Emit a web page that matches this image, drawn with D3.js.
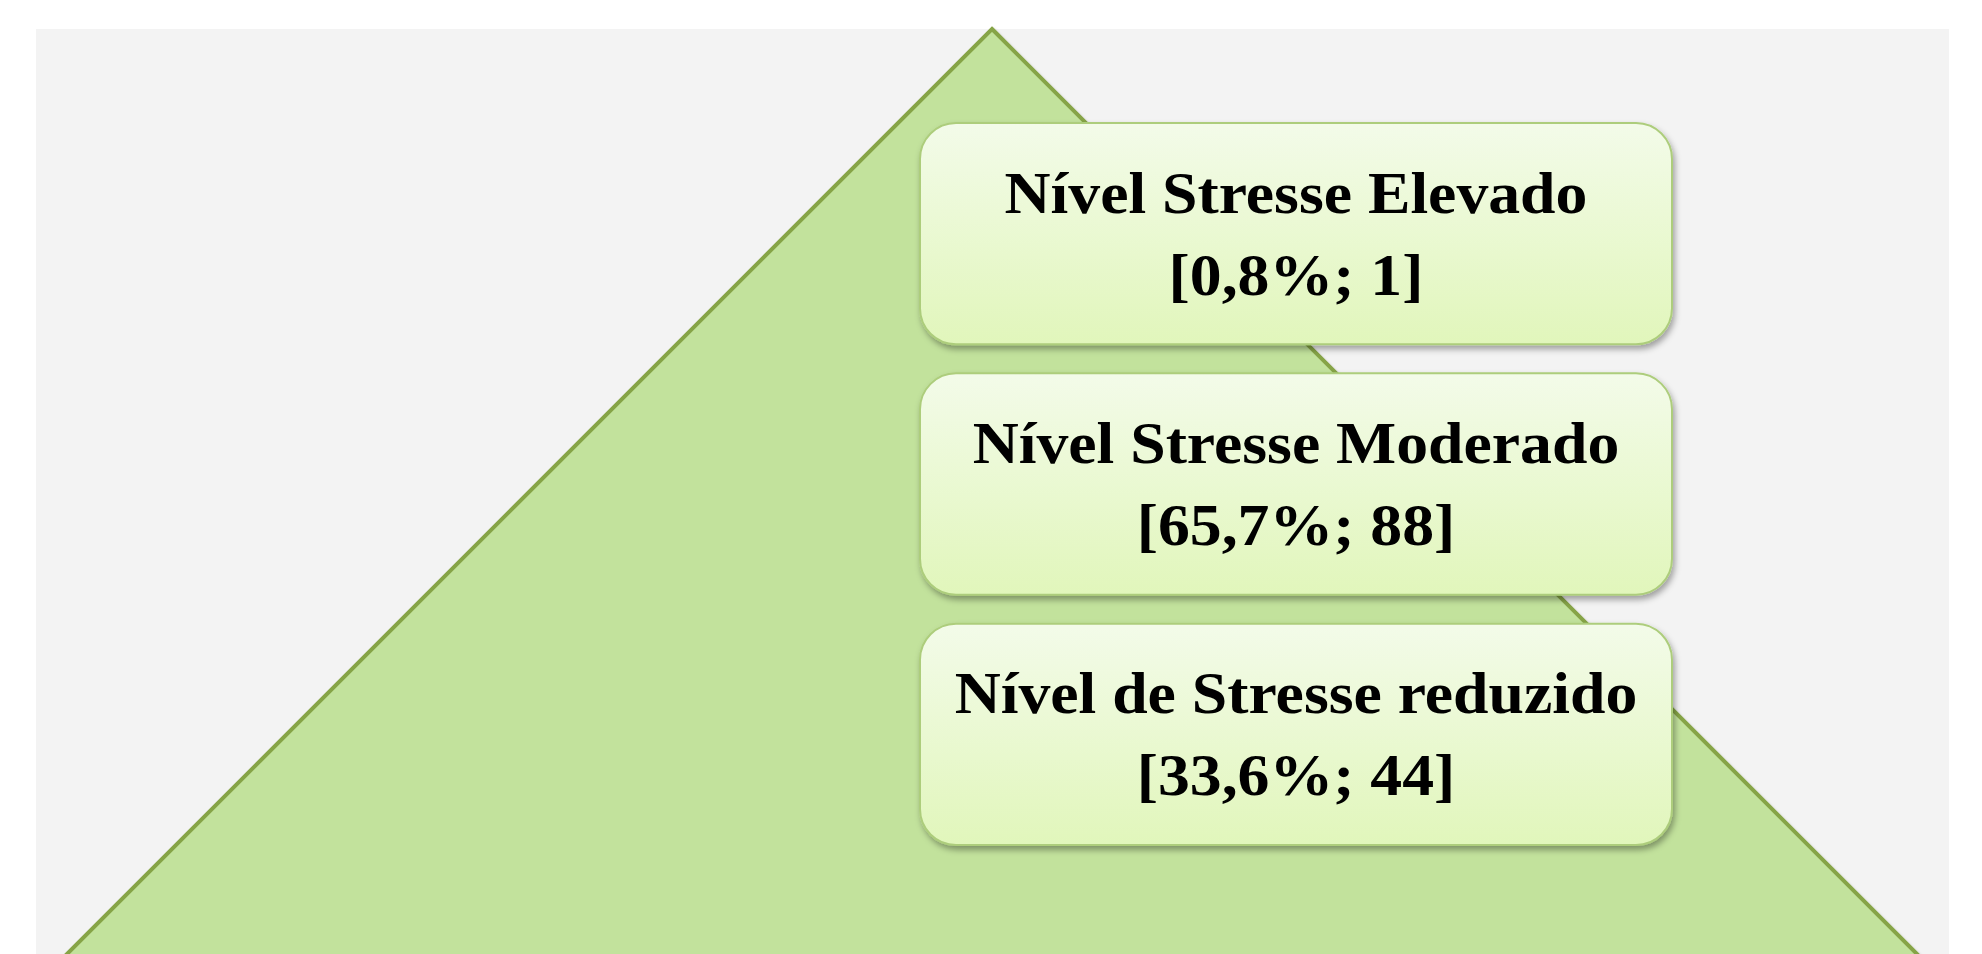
<!DOCTYPE html>
<html>
<head>
<meta charset="utf-8">
<script src="https://cdn.jsdelivr.net/npm/d3@7"></script>
<style>
  body { margin: 0; background: #ffffff; }
  svg { display: block; }
</style>
</head>
<body>
<div class="canvas"></div>
<script>
// data
const levels = ["Nível Stresse Elevado", "Nível Stresse Moderado", "Nível de Stresse reduzido"]
const percents = [0.8, 65.7, 33.6]
const counts = [1, 88, 44]

// settings
const svgWidth = 1982
const svgHeight = 954
const panel = {x: 36, y: 29, right: 1949}
const apex = {x: 992, y: 29}
const boxes = {left: 920, right: 1672, top: 123, bottom: 845, radius: 36}

const ptFormat = d3.formatLocale({decimal: ",", thousands: ".", grouping: [3], currency: ["", ""]}).format(".1f")

const svg = d3.select(".canvas")
    .append("svg")
    .attr("width", svgWidth)
    .attr("height", svgHeight)

const defs = svg.append("defs")

const grad = defs.append("linearGradient")
    .attr("id", "boxFill")
    .attr("x1", 0).attr("y1", 0).attr("x2", 0).attr("y2", 1)
grad.append("stop").attr("offset", "0%").attr("stop-color", "#f3fbe9")
grad.append("stop").attr("offset", "100%").attr("stop-color", "#e1f6bb")

const shadow = defs.append("filter")
    .attr("id", "shadow")
    .attr("x", "-10%").attr("y", "-10%")
    .attr("width", "120%").attr("height", "130%")
shadow.append("feDropShadow")
    .attr("dx", 2).attr("dy", 4)
    .attr("stdDeviation", 3)
    .attr("flood-color", "#000")
    .attr("flood-opacity", 0.35)

const edgeShadow = defs.append("filter")
    .attr("id", "edgeShadow")
    .attr("x", "-5%").attr("y", "-5%")
    .attr("width", "110%").attr("height", "110%")
edgeShadow.append("feDropShadow")
    .attr("dx", 1).attr("dy", 2)
    .attr("stdDeviation", 1.5)
    .attr("flood-color", "#000")
    .attr("flood-opacity", 0.25)

// grey panel
svg.append("rect")
    .attr("x", panel.x)
    .attr("y", panel.y)
    .attr("width", panel.right - panel.x)
    .attr("height", svgHeight - panel.y + 10)
    .attr("fill", "#f3f3f3")

// pyramid (45 degree sides, cut off at the bottom of the page)
const baseY = svgHeight + 20
const half = baseY - apex.y
const pyramid = d3.line()
svg.append("path")
    .attr("d", pyramid([[apex.x, apex.y], [apex.x + half, baseY], [apex.x - half, baseY]]) + "Z")
    .attr("fill", "#c2e29c")
    .attr("stroke", "#86a446")
    .attr("stroke-width", 4)
    .attr("stroke-linejoin", "miter")
    .attr("filter", "url(#edgeShadow)")

// boxes
const y = d3.scaleBand()
    .domain(levels)
    .range([boxes.top, boxes.bottom])
    .paddingInner(0.116)

const rows = levels.map((name, i) => ({name: name, pct: percents[i], n: counts[i]}))

const box = svg.selectAll("g.box")
    .data(rows)
    .enter()
    .append("g")
        .attr("class", "box")
        .attr("transform", d => `translate(0, ${y(d.name)})`)

box.append("rect")
    .attr("x", boxes.left)
    .attr("y", 0)
    .attr("width", boxes.right - boxes.left)
    .attr("height", y.bandwidth())
    .attr("rx", boxes.radius)
    .attr("ry", boxes.radius)
    .attr("fill", "url(#boxFill)")
    .attr("stroke", "#adcd7c")
    .attr("stroke-width", 2)
    .attr("filter", "url(#shadow)")

const cx = (boxes.left + boxes.right) / 2
const fontStyle = t => t
    .attr("x", cx)
    .attr("text-anchor", "middle")
    .attr("font-family", "Georgia, 'Liberation Serif', 'DejaVu Serif', serif")
    .attr("font-weight", "bold")
    .attr("font-size", 59)
    .attr("fill", "#000")

box.append("text")
    .call(fontStyle)
    .attr("y", y.bandwidth() * 0.405)
    .text(d => d.name)

box.append("text")
    .call(fontStyle)
    .attr("y", y.bandwidth() * 0.775)
    .text(d => `[${ptFormat(d.pct)}%; ${d.n}]`)

// widen the serif a bit, Georgia is broader than Liberation Serif
box.selectAll("text").each(function() {
    const len = this.getComputedTextLength()
    d3.select(this)
        .attr("textLength", len * 1.08)
        .attr("lengthAdjust", "spacingAndGlyphs")
})
</script>
</body>
</html>
